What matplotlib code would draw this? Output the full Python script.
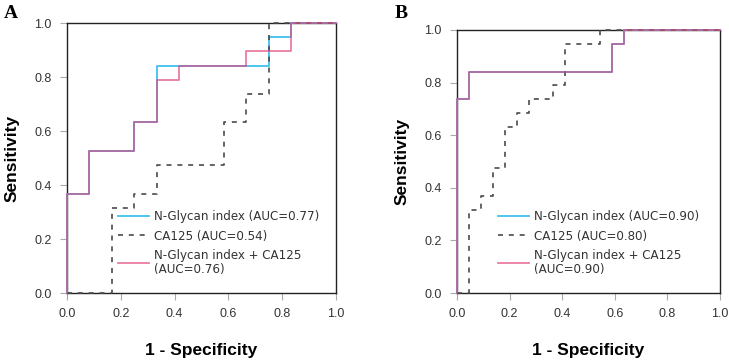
import matplotlib
matplotlib.use("Agg")
import matplotlib.pyplot as plt
from matplotlib.lines import Line2D

# ---- Panel A data (1 - specificity, sensitivity) ----
a_glycan_x = [0, 0, 1/12, 1/12, 3/12, 3/12, 4/12, 4/12, 9/12, 9/12, 10/12, 10/12, 1.0]
a_glycan_y = [0, 7/19, 7/19, 10/19, 10/19, 12/19, 12/19, 16/19, 16/19, 18/19, 18/19, 1.0, 1.0]
a_ca125_x = [0, 2/12, 2/12, 3/12, 3/12, 4/12, 4/12, 7/12, 7/12, 8/12, 8/12, 9/12, 9/12, 1.0]
a_ca125_y = [0, 0, 6/19, 6/19, 7/19, 7/19, 9/19, 9/19, 12/19, 12/19, 14/19, 14/19, 1.0, 1.0]
a_comb_x = [0, 0, 1/12, 1/12, 3/12, 3/12, 4/12, 4/12, 5/12, 5/12, 8/12, 8/12, 10/12, 10/12, 1.0]
a_comb_y = [0, 7/19, 7/19, 10/19, 10/19, 12/19, 12/19, 15/19, 15/19, 16/19, 16/19, 17/19, 17/19, 1.0, 1.0]
a_labels = ["N-Glycan index (AUC=0.77)", "CA125 (AUC=0.54)", "N-Glycan index + CA125\n(AUC=0.76)"]

# ---- Panel B data ----
b_glycan_x = [0, 0, 1/22, 1/22, 13/22, 13/22, 14/22, 14/22, 1.0]
b_glycan_y = [0, 14/19, 14/19, 16/19, 16/19, 18/19, 18/19, 1.0, 1.0]
b_ca125_x = [0, 1/22, 1/22, 2/22, 2/22, 3/22, 3/22, 4/22, 4/22, 5/22, 5/22, 6/22, 6/22, 8/22, 8/22, 9/22, 9/22, 12/22, 12/22, 1.0]
b_ca125_y = [0, 0, 6/19, 6/19, 7/19, 7/19, 9/19, 9/19, 12/19, 12/19, 13/19, 13/19, 14/19, 14/19, 15/19, 15/19, 18/19, 18/19, 1.0, 1.0]
b_comb_x = [0, 0, 1/22, 1/22, 13/22, 13/22, 14/22, 14/22, 1.0]
b_comb_y = [0, 14/19, 14/19, 16/19, 16/19, 18/19, 18/19, 1.0, 1.0]
b_labels = ["N-Glycan index (AUC=0.90)", "CA125 (AUC=0.80)", "N-Glycan index + CA125\n(AUC=0.90)"]

ticks = [0.0, 0.2, 0.4, 0.6, 0.8, 1.0]
tick_labels = ["0.0", "0.2", "0.4", "0.6", "0.8", "1.0"]

BLUE = "#3ec0ef"
PINK = "#e0457f"
DASH = "#4a4a4a"

W, H = 729, 361
fig = plt.figure(figsize=(W / 100, H / 100), dpi=100)

def ax_rect(x0, y0, x1, y1):
    return [x0 / W, 1 - y1 / H, (x1 - x0) / W, (y1 - y0) / H]

panels = [
    (ax_rect(67, 23, 336, 293), "A", (4, 18), a_glycan_x, a_glycan_y, a_ca125_x, a_ca125_y,
     a_comb_x, a_comb_y, a_labels, (118, 220)),
    (ax_rect(457, 30, 720, 293), "B", (395, 18), b_glycan_x, b_glycan_y, b_ca125_x, b_ca125_y,
     b_comb_x, b_comb_y, b_labels, (498, 220)),
]

for rect, letter, lpos, gx, gy, cx, cy, mx, my, labels, legpos in panels:
    ax = fig.add_axes(rect)
    ax.plot(gx, gy, color=BLUE, lw=1.3, zorder=3, clip_on=False)
    ax.plot(cx, cy, color=DASH, lw=1.2, ls=(0, (3, 3.5)), zorder=3, clip_on=False)
    ax.plot(mx, my, color=PINK, lw=1.3, alpha=0.7, zorder=4, clip_on=False)
    ax.set_xlim(0, 1)
    ax.set_ylim(0, 1)
    ax.set_xticks(ticks)
    ax.set_xticklabels(tick_labels)
    ax.set_yticks(ticks)
    ax.set_yticklabels(tick_labels)
    ax.tick_params(direction="out", length=5, width=0.8, color="#aaaaaa",
                   labelcolor="#333333", labelsize=9, pad=6)
    for lab in ax.get_xticklabels() + ax.get_yticklabels():
        lab.set_family("Liberation Sans")
    for s in ax.spines.values():
        s.set_color("#222222")
        s.set_linewidth(1.0)
    ax.set_xlabel("1 - Specificity", fontsize=12.5, fontweight="bold",
                  family="Liberation Sans", labelpad=16)
    ax.set_ylabel("Sensitivity", fontsize=12.5, fontweight="bold",
                  family="Liberation Sans", labelpad=11)
    fig.text(lpos[0] / W, 1 - lpos[1] / H, letter, fontsize=14, fontweight="bold",
             family="Liberation Serif", ha="left", va="baseline")
    handles = [Line2D([], [], color=BLUE, lw=1.3),
               Line2D([], [], color=DASH, lw=1.2, ls=(0, (3, 3.5))),
               Line2D([], [], color=PINK, lw=1.3, alpha=0.7)]
    leg = ax.legend(handles, labels, loc="upper left",
                    bbox_to_anchor=(legpos[0] / W, 1 - (legpos[1] - 10) / H),
                    bbox_transform=fig.transFigure, frameon=False,
                    prop={"family": "DejaVu Sans", "size": 8.6},
                    handlelength=2.6, handletextpad=0.4, labelspacing=0.55,
                    borderpad=0, borderaxespad=0)
    for t in leg.get_texts():
        t.set_color("#333333")
        t.set_linespacing(1.1)

fig.savefig("out.png", dpi=100)
